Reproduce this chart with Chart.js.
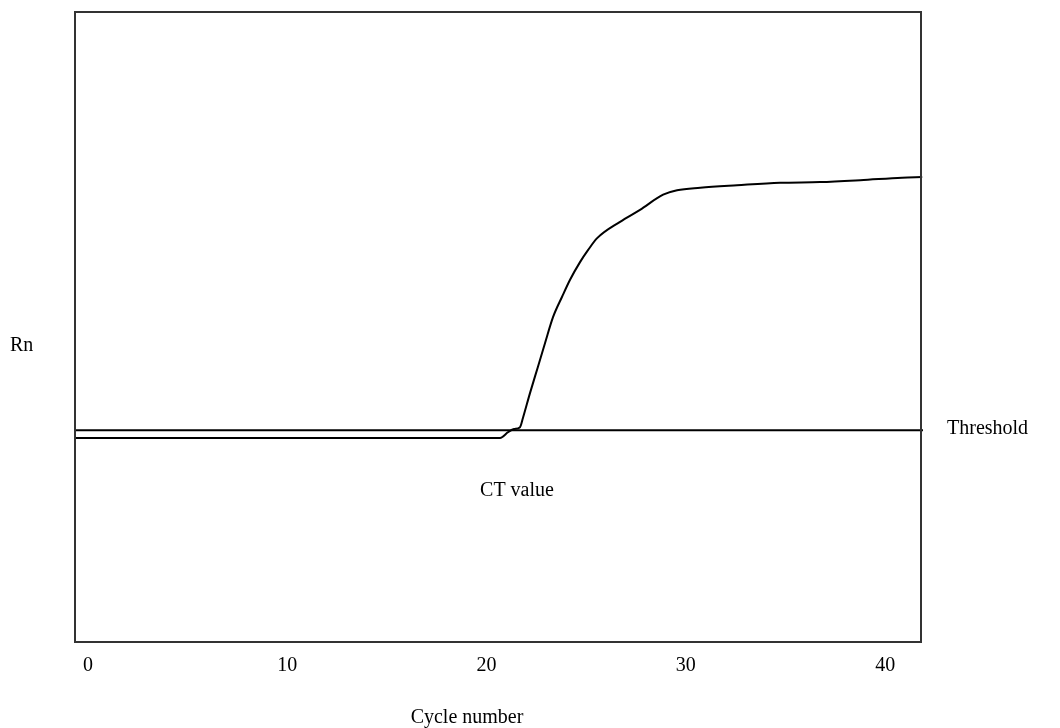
<!DOCTYPE html>
<html>
<head>
<meta charset="utf-8">
<script src="https://cdn.jsdelivr.net/npm/chart.js@4"></script>
<style>
  html, body { margin: 0; padding: 0; background: #fff; }
  canvas { display: block; }
</style>
</head>
<body>
<canvas id="grafico" width="1060" height="728"></canvas>
<script>
// amplification curve (cycle, Rn in arbitrary units 0-100)
const ciclos = [-0.7, 20.68, 21.08, 21.38, 21.68, 21.83, 22.18, 22.58, 22.94, 23.34, 23.79, 24.19, 24.69, 25.09, 25.55, 26.7, 27.7, 28.86, 29.56, 30.72, 32.57, 34.73, 36.74, 38.75, 40.85, 41.86];
const valoresRn = [32.4, 32.4, 33.3, 33.8, 34.1, 35.6, 39.5, 43.7, 47.5, 51.6, 54.8, 57.5, 60.3, 62.2, 64.1, 66.7, 68.6, 71.0, 71.7, 72.1, 72.5, 72.9, 73.0, 73.3, 73.7, 73.8];
const umbral = 33.6;
const ticksX = [0, 10, 20, 30, 40];
const ejeXMin = -0.65;
const ejeXMax = 41.8;

const fuente = 'Liberation Serif, Times New Roman, serif';

// texts and frame drawn on top of the chart
const textosPlugin = {
  id: 'textos',
  afterDatasetsDraw(chart) {
    const ctx = chart.ctx;
    const a = chart.chartArea;
    const y = chart.scales.y;
    ctx.save();
    ctx.strokeStyle = '#333';
    ctx.lineWidth = 2;
    ctx.strokeRect(a.left, a.top, a.right - a.left, a.bottom - a.top);

    ctx.fillStyle = '#000';
    ctx.font = '20px ' + fuente;
    ctx.textBaseline = 'middle';
    ctx.textAlign = 'left';
    ctx.fillText('Rn', 10, 346);
    ctx.fillText('Threshold', 947, y.getPixelForValue(umbral) - 2);
    ctx.textAlign = 'center';
    ctx.fillText('CT value', 517, 491);
    ctx.fillText('Cycle number', 467, 718);
    ctx.restore();
  }
};

const ctx = document.getElementById('grafico').getContext('2d');
new Chart(ctx, {
  type: 'line',
  data: {
    datasets: [
      {
        label: 'Rn',
        data: ciclos.map((c, i) => ({ x: c, y: valoresRn[i] })),
        borderColor: '#000',
        borderWidth: 2,
        pointRadius: 0,
        cubicInterpolationMode: 'monotone',
        clip: false
      },
      {
        label: 'Threshold',
        data: [{ x: ejeXMin, y: umbral }, { x: ejeXMax + 0.1, y: umbral }],
        borderColor: '#000',
        borderWidth: 2,
        pointRadius: 0,
        clip: false
      }
    ]
  },
  plugins: [textosPlugin],
  options: {
    responsive: false,
    animation: false,
    layout: { padding: { left: 75, right: 139, top: 12, bottom: 0 } },
    plugins: {
      legend: { display: false },
      tooltip: { enabled: false },
      title: { display: false }
    },
    scales: {
      x: {
        type: 'linear',
        min: ejeXMin,
        max: ejeXMax,
        afterBuildTicks: s => { s.ticks = ticksX.map(v => ({ value: v })); },
        afterFit: s => { s.height = 86; },
        grid: { display: false },
        border: { display: false },
        ticks: {
          color: '#000',
          padding: 4,
          maxRotation: 0,
          font: { family: fuente, size: 20 }
        }
      },
      y: {
        display: false,
        min: 0,
        max: 100
      }
    }
  }
});
</script>
</body>
</html>
